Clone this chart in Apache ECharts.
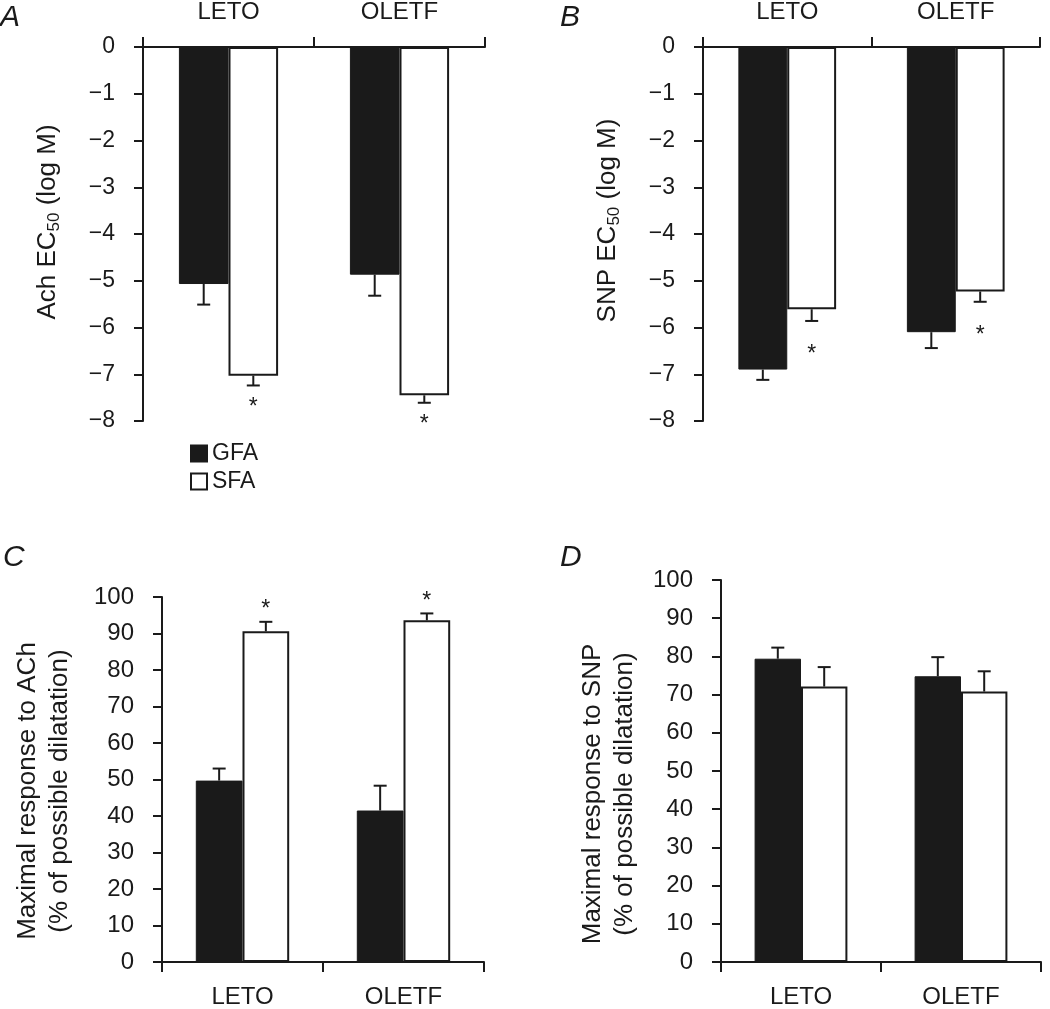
<!DOCTYPE html>
<html><head><meta charset="utf-8">
<script src="https://cdn.jsdelivr.net/npm/echarts@6/dist/echarts.min.js"></script>
<style>html,body{margin:0;padding:0;background:#fff}#c{width:1050px;height:1009px}</style>
</head><body><div id="c"></div>
<script>
// ---- data ----
const categories = ['LETO', 'OLETF'];
const seriesNames = ['GFA', 'SFA'];
// Panel A: Ach EC50 (log M)
const achEC50_GFA = [-5.07, -4.87];
const achEC50_GFA_err = [0.44, 0.45];
const achEC50_SFA = [-7.03, -7.45];
const achEC50_SFA_err = [0.21, 0.16];
const achEC50_sig = [true, true];
// Panel B: SNP EC50 (log M)
const snpEC50_GFA = [-6.90, -6.10];
const snpEC50_GFA_err = [0.22, 0.34];
const snpEC50_SFA = [-5.61, -5.23];
const snpEC50_SFA_err = [0.25, 0.22];
const snpEC50_sig = [true, true];
// Panel C: maximal response to ACh (%)
const achMax_GFA = [49.7, 41.5];
const achMax_GFA_err = [3.3, 6.8];
const achMax_SFA = [90.6, 93.6];
const achMax_SFA_err = [2.6, 1.9];
const achMax_sig = [true, true];
// Panel D: maximal response to SNP (%)
const snpMax_GFA = [79.4, 74.8];
const snpMax_GFA_err = [2.9, 5.0];
const snpMax_SFA = [72.1, 70.8];
const snpMax_SFA_err = [5.1, 5.3];
const snpMax_sig = [false, false];
// axis ranges / ticks
const ec50Min = -8, ec50Max = 0, ec50Interval = 1;
const pctMin = 0, pctMax = 100, pctInterval = 10;

// ---- styling ----
const INK = '#1a1a1a';
const FONT = '"Liberation Sans", Arial, sans-serif';
const BAR_FRAC = 0.29;

const panels = [
  { letter: 'A', grid: {left: 143, top: 43, right: 565, bottom: 588}, xPos: 'top', tickFont: 23,
    min: ec50Min, max: ec50Max, interval: ec50Interval,
    name: '{a|Ach EC}{b|50}{a| (log M)}', nameGap: 80, namePad: [0,0,0,24],
    g: achEC50_GFA, ge: achEC50_GFA_err, s: achEC50_SFA, se: achEC50_SFA_err, sig: achEC50_sig, sigOff: 22,
    letterPos: [0, 18] },
  { letter: 'B', grid: {left: 703, top: 43, right: 10, bottom: 588}, xPos: 'top', tickFont: 23,
    min: ec50Min, max: ec50Max, interval: ec50Interval,
    name: '{a|SNP EC}{b|50}{a| (log M)}', nameGap: 80, namePad: [0,0,0,27],
    g: snpEC50_GFA, ge: snpEC50_GFA_err, s: snpEC50_SFA, se: snpEC50_SFA_err, sig: snpEC50_sig, sigOff: 34,
    letterPos: [560, 18] },
  { letter: 'C', grid: {left: 162, top: 597, right: 566, bottom: 44}, xPos: 'bottom', tickFont: 24,
    min: pctMin, max: pctMax, interval: pctInterval,
    name: 'Maximal response to ACh\n(% of possible dilatation)', nameGap: 86, namePad: [0,23,0,0],
    g: achMax_GFA, ge: achMax_GFA_err, s: achMax_SFA, se: achMax_SFA_err, sig: achMax_sig, sigOff: -12,
    letterPos: [3, 558] },
  { letter: 'D', grid: {left: 721, top: 580, right: 9, bottom: 45}, xPos: 'bottom', tickFont: 24,
    min: pctMin, max: pctMax, interval: pctInterval,
    name: 'Maximal response to SNP\n(% of possible dilatation)', nameGap: 80, namePad: [0,46,0,0],
    g: snpMax_GFA, ge: snpMax_GFA_err, s: snpMax_SFA, se: snpMax_SFA_err, sig: snpMax_sig, sigOff: -12,
    letterPos: [560, 558] }
];

function fmtMinus(v) { return v < 0 ? '\u2212' + Math.abs(v) : String(v); }

function barX(api, ci, v, side) {
  const base = api.coord([ci, v]);
  const band = api.size([1, 0])[0];
  return [base[0] + side * band * BAR_FRAC / 2, base[1]];
}

function renderErr(params, api) {
  const ci = api.value(0), v = api.value(1), e = api.value(2), side = api.value(3);
  const sgn = v < 0 ? -1 : 1;
  const b = barX(api, ci, v, side);
  const endY = api.coord([ci, v + sgn * e])[1];
  const cap = 6.5;
  const st = {stroke: INK, lineWidth: 2};
  return {type: 'group', children: [
    {type: 'line', shape: {x1: b[0], y1: b[1], x2: b[0], y2: endY}, style: st},
    {type: 'line', shape: {x1: b[0] - cap, y1: endY, x2: b[0] + cap, y2: endY}, style: st}
  ]};
}

function makeSig(off) {
  return function (params, api) {
    const ci = api.value(0), v = api.value(1), e = api.value(2), side = api.value(3);
    const sgn = v < 0 ? -1 : 1;
    const b = barX(api, ci, v, side);
    const endY = api.coord([ci, v + sgn * e])[1];
    return {type: 'text', x: b[0], y: endY + off,
      style: {text: '*', fontSize: 23, fontFamily: FONT, fill: INK, align: 'center', verticalAlign: 'middle'}};
  };
}

const grid = [], xAxis = [], yAxis = [], series = [], graphic = [];
panels.forEach((p, i) => {
  grid.push(Object.assign({containLabel: false}, p.grid));
  xAxis.push({
    type: 'category', gridIndex: i, data: categories, position: p.xPos,
    axisLine: {show: true, onZero: false, lineStyle: {color: INK, width: 2}},
    axisTick: {show: true, length: 10, alignWithLabel: false, lineStyle: {color: INK, width: 2}},
    axisLabel: {color: INK, fontSize: 24, fontFamily: FONT, margin: 23},
    splitLine: {show: false}
  });
  yAxis.push({
    type: 'value', gridIndex: i, min: p.min, max: p.max, interval: p.interval,
    axisLine: {show: true, lineStyle: {color: INK, width: 2}},
    axisTick: {show: true, length: 9, lineStyle: {color: INK, width: 2}},
    axisLabel: {color: INK, fontSize: p.tickFont, fontFamily: FONT, margin: 28, formatter: fmtMinus},
    splitLine: {show: false},
    name: p.name, nameLocation: 'middle', nameRotate: 90, nameGap: p.nameGap,
    nameTextStyle: {color: INK, fontSize: 26, fontFamily: FONT, lineHeight: 32, padding: p.namePad,
      rich: {a: {fontSize: 26, fontFamily: FONT, color: INK, lineHeight: 30},
             b: {fontSize: 17, fontFamily: FONT, color: INK, lineHeight: 17, verticalAlign: 'bottom'}}}
  });
  series.push({
    name: 'GFA', type: 'bar', xAxisIndex: i, yAxisIndex: i, data: p.g,
    barWidth: (BAR_FRAC * 100) + '%', barGap: '0%',
    itemStyle: {color: INK, borderColor: INK, borderWidth: 1}, silent: true
  });
  series.push({
    name: 'SFA', type: 'bar', xAxisIndex: i, yAxisIndex: i, data: p.s,
    barWidth: (BAR_FRAC * 100) + '%', barGap: '0%',
    itemStyle: {color: '#ffffff', borderColor: INK, borderWidth: 2}, silent: true
  });
  const errData = [];
  categories.forEach((c, ci) => {
    errData.push([ci, p.g[ci], p.ge[ci], -1]);
    errData.push([ci, p.s[ci], p.se[ci], 1]);
  });
  series.push({
    type: 'custom', xAxisIndex: i, yAxisIndex: i, renderItem: renderErr, data: errData,
    encode: {x: 0, y: 1}, z: 5, silent: true
  });
  const sigData = [];
  categories.forEach((c, ci) => {
    if (p.sig[ci]) sigData.push([ci, p.s[ci], p.se[ci], 1]);
  });
  series.push({
    type: 'custom', xAxisIndex: i, yAxisIndex: i, renderItem: makeSig(p.sigOff), data: sigData,
    encode: {x: 0, y: 1}, z: 6, silent: true
  });
  graphic.push({type: 'text', x: p.letterPos[0], y: p.letterPos[1],
    style: {text: p.letter, fontSize: 30, fontStyle: 'italic', fontFamily: FONT, fill: INK,
      align: 'left', verticalAlign: 'middle'}});
});

const chart = echarts.init(document.getElementById('c'), null, {renderer: 'canvas'});
chart.setOption({
  animation: false,
  backgroundColor: '#ffffff',
  grid, xAxis, yAxis, series, graphic,
  legend: {
    data: seriesNames, orient: 'vertical', left: 185, top: 437, icon: 'rect',
    itemWidth: 16, itemHeight: 16, itemGap: 5, selectedMode: false,
    textStyle: {color: INK, fontSize: 23, fontFamily: FONT}
  }
});
</script>
</body></html>
